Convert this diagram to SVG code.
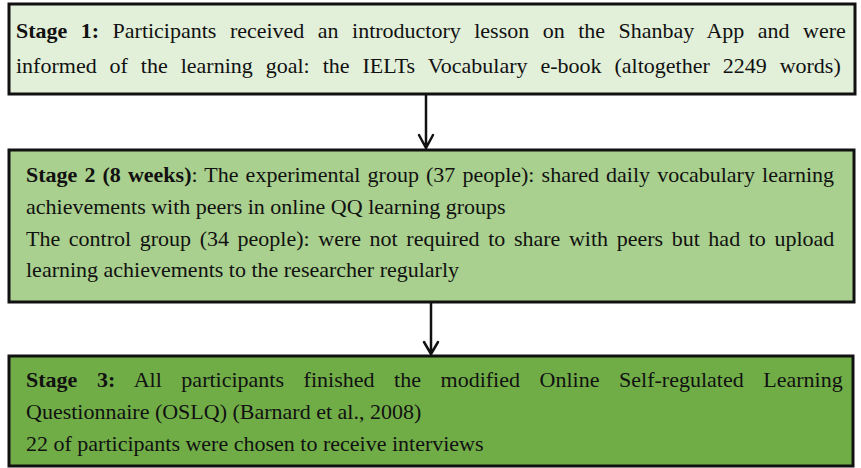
<svg xmlns="http://www.w3.org/2000/svg" width="861" height="468" viewBox="0 0 861 468">
  <style>
    .box { stroke: #111; stroke-width: 3; }
    .t { font-family: "Liberation Serif", "Times New Roman", serif; font-size: 22px; fill: #111; }
    .b { font-weight: bold; }
    .conn { stroke: #111; stroke-width: 2.5; fill: none; stroke-linecap: round; stroke-linejoin: round; }
  </style>
  <rect width="861" height="468" fill="#ffffff"/>

  <g id="stage1">
    <rect class="box" x="9" y="4" width="846" height="90" fill="#e2efd9"/>
    <text class="t" x="16" y="38" word-spacing="7.95"><tspan class="b">Stage 1:</tspan> Participants received an introductory lesson on the Shanbay App and were</text>
    <text class="t" x="16" y="73" word-spacing="7.45">informed of the learning goal: the IELTs Vocabulary e-book (altogether 2249 words)</text>
  </g>

  <g id="stage2">
    <rect class="box" x="9" y="150" width="845" height="152" fill="#a9d08e"/>
    <text class="t" x="26" y="182" word-spacing="1.6"><tspan class="b">Stage 2 (8 weeks)</tspan>: The experimental group (37 people): shared daily vocabulary learning</text>
    <text class="t" x="26" y="214">achievements with peers in online QQ learning groups</text>
    <text class="t" x="26" y="246" word-spacing="3.1">The control group (34 people): were not required to share with peers but had to upload</text>
    <text class="t" x="26" y="277">learning achievements to the researcher regularly</text>
  </g>

  <g id="stage3">
    <rect class="box" x="9" y="356" width="844" height="110" fill="#70ad47" stroke-width="2.5"/>
    <text class="t" x="26" y="387" word-spacing="14.1"><tspan class="b">Stage 3:</tspan> All participants finished the modified Online Self-regulated Learning</text>
    <text class="t" x="26" y="419">Questionnaire (OSLQ) (Barnard et al., 2008)</text>
    <text class="t" x="26" y="451">22 of participants were chosen to receive interviews</text>
  </g>

  <g id="connectors">
    <path class="conn" d="M426 95 V148 M419 135 L426 148 L433 135"/>
    <path class="conn" d="M431 303 V354 M424 342 L431 354 L438 342"/>
  </g>
</svg>
